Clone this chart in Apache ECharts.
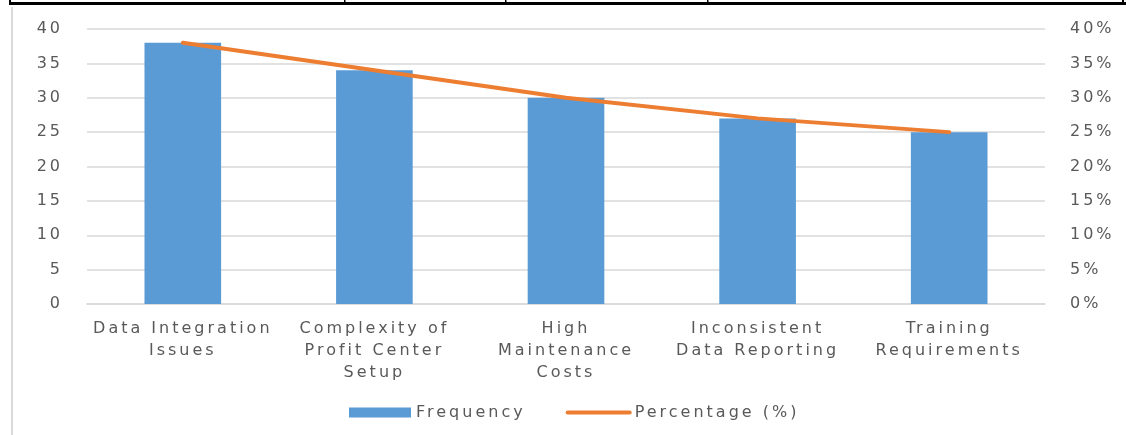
<!DOCTYPE html>
<html>
<head>
<meta charset="utf-8">
<style>
  html, body { margin: 0; padding: 0; background: #ffffff; }
  #chart { width: 1126px; height: 435px; }
</style>
<script src="https://cdn.jsdelivr.net/npm/echarts@6/dist/echarts.min.js"></script>
</head>
<body>
<div id="chart"></div>
<script>
// Challenges reported for profit center accounting
const categories = [
  'Data Integration\nIssues',
  'Complexity of\nProfit Center\nSetup',
  'High\nMaintenance\nCosts',
  'Inconsistent\nData Reporting',
  'Training\nRequirements'
];
const frequency = [38, 34, 30, 27, 25];
const percentage = [38, 34, 30, 27, 25];
const leftTicks = { min: 0, max: 40, interval: 5 };
const rightTicks = { min: 0, max: 40, interval: 5 };

const FONT = 'DejaVu Sans';
const TEXT = '#595959';
const TRACKING = '3px';

// Wide-tracked lettering: apply the same letter spacing when text is measured and drawn
(function () {
  const proto = CanvasRenderingContext2D.prototype;
  if (!('letterSpacing' in proto)) return;
  const origFill = proto.fillText;
  const origMeasure = proto.measureText;
  proto.fillText = function () { this.letterSpacing = TRACKING; return origFill.apply(this, arguments); };
  proto.measureText = function () { this.letterSpacing = TRACKING; return origMeasure.apply(this, arguments); };
})();

const chart = echarts.init(document.getElementById('chart'), null, { renderer: 'canvas' });

chart.setOption({
  animation: false,
  backgroundColor: '#ffffff',
  textStyle: { fontFamily: FONT, color: TEXT },
  grid: { left: 87, right: 81, top: 29, bottom: 131, containLabel: false },
  legend: {
    bottom: 8,
    left: 344,
    itemGap: 40,
    itemWidth: 62,
    itemHeight: 10,
    textStyle: { fontFamily: FONT, fontSize: 16, color: TEXT },
    data: [
      { name: 'Frequency', icon: 'rect' },
      {
        name: 'Percentage (%)',
        itemStyle: { opacity: 0 },
        lineStyle: { color: '#ed7d31', width: 4, cap: 'round' }
      }
    ]
  },
  xAxis: {
    type: 'category',
    data: categories,
    axisTick: { show: false },
    axisLine: { lineStyle: { color: '#d9d9d9', width: 1.5 } },
    axisLabel: {
      fontFamily: FONT, fontSize: 16, color: TEXT,
      lineHeight: 22, margin: 14, interval: 0
    }
  },
  yAxis: [
    {
      type: 'value',
      min: leftTicks.min, max: leftTicks.max, interval: leftTicks.interval,
      axisLine: { show: false },
      axisTick: { show: false },
      splitLine: { lineStyle: { color: '#d9d9d9', width: 1.5 } },
      axisLabel: { fontFamily: FONT, fontSize: 16, color: TEXT, margin: 24 }
    },
    {
      type: 'value',
      min: rightTicks.min, max: rightTicks.max, interval: rightTicks.interval,
      axisLine: { show: false },
      axisTick: { show: false },
      splitLine: { show: false },
      axisLabel: { fontFamily: FONT, fontSize: 16, color: TEXT, margin: 25, formatter: '{value}%' }
    }
  ],
  series: [
    {
      name: 'Frequency',
      type: 'bar',
      data: frequency,
      barWidth: '40%',
      itemStyle: { color: '#5b9bd5' },
      yAxisIndex: 0
    },
    {
      name: 'Percentage (%)',
      type: 'line',
      data: percentage,
      yAxisIndex: 1,
      symbol: 'none',
      lineStyle: { color: '#ed7d31', width: 4, cap: 'round' },
      itemStyle: { color: '#ed7d31' }
    }
  ],
  graphic: [
    // page frame: dark top rule with cell dividers, light left edge
    { type: 'rect', shape: { x: 10, y: 2, width: 1116, height: 3 }, style: { fill: '#000000' }, silent: true },
    { type: 'rect', shape: { x: 9, y: 0, width: 2, height: 5 }, style: { fill: '#000000' }, silent: true },
    { type: 'rect', shape: { x: 344, y: 0, width: 1.5, height: 4 }, style: { fill: '#000000' }, silent: true },
    { type: 'rect', shape: { x: 505, y: 0, width: 1.5, height: 4 }, style: { fill: '#000000' }, silent: true },
    { type: 'rect', shape: { x: 707, y: 0, width: 1.5, height: 4 }, style: { fill: '#000000' }, silent: true },
    { type: 'rect', shape: { x: 1122, y: 0, width: 2, height: 5 }, style: { fill: '#000000' }, silent: true },
    { type: 'rect', shape: { x: 11, y: 7, width: 2, height: 428 }, style: { fill: '#d9d9d9' }, silent: true }
  ]
});
</script>
</body>
</html>
